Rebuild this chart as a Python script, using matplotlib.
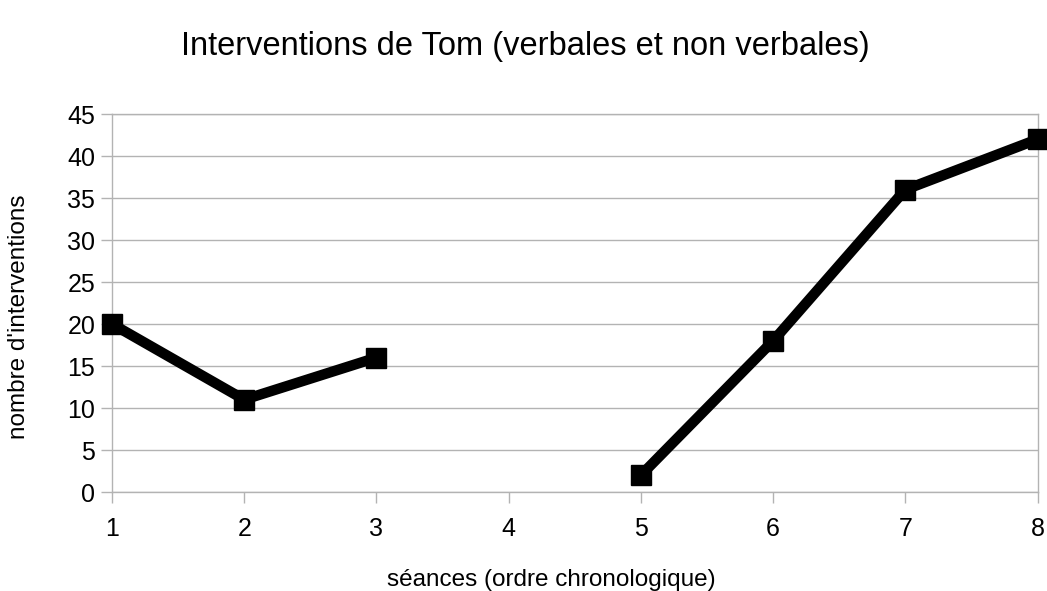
import numpy as np
import matplotlib
matplotlib.use("Agg")
import matplotlib.pyplot as plt

plt.rcParams['font.family'] = ['Liberation Sans', 'DejaVu Sans']

seances = [1, 2, 3, 4, 5, 6, 7, 8]
interventions = [20, 11, 16, np.nan, 2, 18, 36, 42]
yticks = list(range(0, 46, 5))

fig = plt.figure(figsize=(10.47, 5.91), dpi=100)
ax = fig.add_axes([0.107, 0.1675, 0.884, 0.6395])
ax.plot(seances, interventions, color='black', linewidth=7.5,
        marker='s', markersize=15, solid_joinstyle='miter', clip_on=False, zorder=3)
ax.set_xlim(1, 8)
ax.set_ylim(0, 45)
ax.set_xticks(seances)
ax.set_yticks(yticks)
ax.grid(axis='y', color='#b3b3b3', linewidth=1)
for s in ax.spines.values():
    s.set_color('#b3b3b3')
    s.set_linewidth(1)
ax.tick_params(axis='both', colors='#b3b3b3', labelcolor='black', labelsize=18,
               length=8, width=1, direction='out')
ax.tick_params(axis='x', pad=10)
ax.tick_params(axis='y', pad=4)
fig.text(0.527, 0.0186, 'séances (ordre chronologique)', fontsize=17.5,
         ha='center', va='center')
fig.text(0.018, 0.4636, "nombre d'interventions", fontsize=17.5,
         ha='center', va='center', rotation=90)
fig.text(0.502, 0.922, 'Interventions de Tom (verbales et non verbales)', fontsize=23.5,
         ha='center', va='center')
fig.savefig('out.png', dpi=100)
